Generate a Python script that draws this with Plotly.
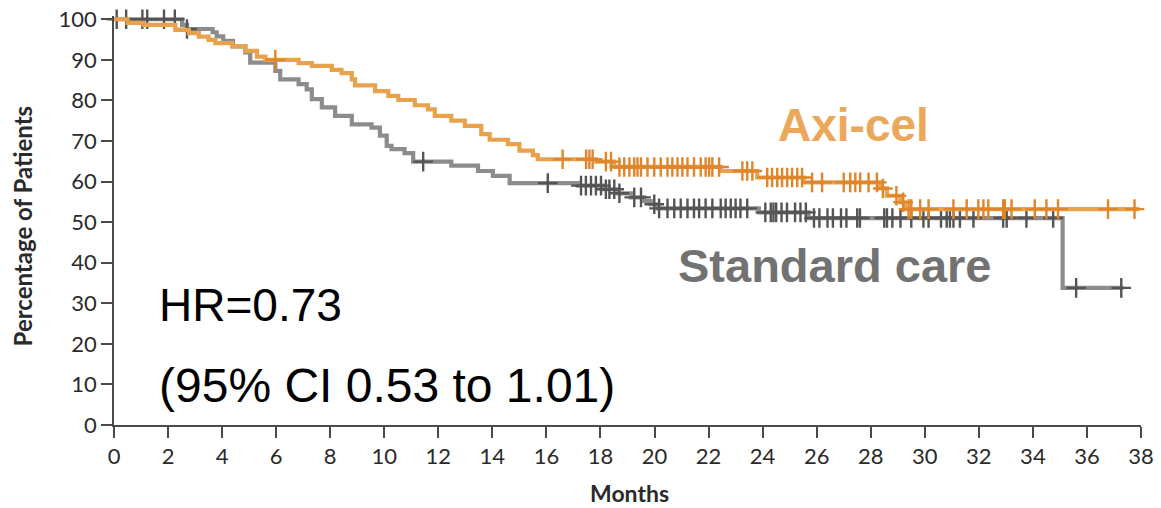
import plotly.graph_objects as go
import bisect

# ---------------- data ----------------
months_ticks = list(range(0, 40, 2))
pct_ticks = list(range(0, 110, 10))

# Axi-cel: Kaplan-Meier step times (months) and survival (%)
axi_t = [0, 0.5, 1.1, 2.27, 2.77, 3.14, 3.5, 3.75, 4.37, 4.86, 5.29, 5.6, 6.83, 7.32,
         8.06, 8.42, 8.8, 8.92, 9.66, 10.15, 10.52, 11.13, 11.62, 11.87, 12.48, 12.98,
         13.59, 13.9, 14.58, 15.0, 15.5, 15.68, 17.83, 18.51, 22.45, 23.8, 25.52,
         28.35, 28.6, 29.09, 29.27, 37.94]
axi_s = [100, 99.1, 98.6, 97.4, 96.6, 95.7, 94.9, 94.1, 93.3, 92.2, 90.8, 90.0, 89.2, 88.5,
         87.5, 86.7, 85.2, 83.7, 82.3, 81.1, 80.1, 78.8, 77.8, 76.2, 75.0, 73.7,
         71.7, 70.3, 69.2, 67.6, 66.5, 65.5, 64.9, 63.6, 62.6, 61.0, 59.8,
         58.3, 56.5, 54.9, 53.2, 53.2]
axi_cens = [5.97, 16.6, 17.47, 17.59, 17.71, 18.2, 18.39, 18.7, 18.88, 19.07, 19.25, 19.37,
            19.5, 19.74, 19.99, 20.23, 20.48, 20.66, 20.85, 21.03, 21.22, 21.46, 21.71,
            21.89, 22.02, 22.14, 22.39, 23.25, 23.43, 23.62, 24.17, 24.35, 24.54, 24.72,
            24.91, 25.09, 25.28, 25.46, 25.83, 26.2, 27.0, 27.24, 27.43, 27.61, 27.92,
            28.23, 28.45, 28.95, 29.2, 29.4, 29.5, 29.83, 30.14, 31.06, 31.55, 31.98,
            32.17, 32.35, 32.9, 32.96, 33.21, 34.07, 34.5, 34.93, 36.78, 37.76]

# Standard care
soc_t = [0, 2.52, 2.7, 3.65, 3.8, 4.04, 4.4, 4.86, 5.04, 5.97, 6.15, 6.83, 7.13, 7.32,
         7.69, 8.18, 8.8, 9.53, 9.84, 10.09, 10.27, 10.75, 11.07, 12.48, 13.47, 14.02,
         14.64, 17.16, 18.14, 18.63, 19.13, 19.62, 19.86, 20.11, 23.86, 25.7, 35.1, 37.35]
soc_s = [100, 98.6, 97.6, 96.8, 95.8, 94.7, 93.3, 91.8, 89.3, 87.3, 85.2, 84.0, 82.7, 80.3,
         78.3, 76.2, 74.1, 73.3, 71.3, 68.8, 68.0, 67.0, 64.9, 63.9, 62.6, 61.4,
         59.6, 59.0, 58.1, 57.1, 56.1, 55.2, 54.4, 53.4, 52.4, 51.0, 33.8, 33.8]
soc_cens = [0.1, 0.45, 1.05, 1.23, 1.85, 2.25, 2.7, 11.44, 16.05, 17.28, 17.46, 17.65,
            17.83, 18.02, 18.2, 18.33, 18.51, 18.7, 19.25, 19.5, 19.99, 20.17, 20.48,
            20.73, 20.97, 21.22, 21.46, 21.65, 21.89, 22.14, 22.45, 22.63, 22.82, 23.0,
            23.18, 23.43, 24.1, 24.3, 24.4, 24.5, 24.7, 24.9, 25.2, 25.4, 25.6, 25.9,
            26.1, 26.4, 26.6, 26.9, 27.1, 27.5, 27.6, 28.5, 28.6, 28.8, 29.1, 29.5,
            29.95, 30.14, 30.6, 30.81, 30.93, 31.06, 31.3, 31.8, 32.9, 33.03, 33.76,
            34.75, 35.6, 37.27]

labels = {"axi": "Axi-cel", "soc": "Standard care"}
x_title = "Months"
y_title = "Percentage of Patients"
hr_text = "HR=0.73"
ci_text = "(95% CI 0.53 to 1.01)"

# ---------------- styling ----------------
ORANGE_LINE = "#E9A24C"
ORANGE_MARK = "#E0852A"
ORANGE_TEXT = "#EBA85A"
GREY_LINE = "#8C8C8C"
GREY_MARK = "#545454"
GREY_TEXT = "#727272"
AXIS = "#4a4a4a"
LABEL = "#2a2a2a"
TICK_FONT = "Lato, sans-serif"
ANN_FONT = "Liberation Sans, Arial, sans-serif"


def step_value(ts, ss, t):
    i = bisect.bisect_right(ts, t) - 1
    return ss[max(i, 0)]


fig = go.Figure()

for ts, ss, cens, lc, mc in [(soc_t, soc_s, soc_cens, GREY_LINE, GREY_MARK),
                             (axi_t, axi_s, axi_cens, ORANGE_LINE, ORANGE_MARK)]:
    fig.add_trace(go.Scatter(x=ts, y=ss, mode="lines", line=dict(color=lc, width=4.2, shape="hv"),
                             showlegend=False, hoverinfo="skip"))
    fig.add_trace(go.Scatter(x=cens, y=[step_value(ts, ss, c) for c in cens], mode="markers",
                             marker=dict(symbol="cross-thin", size=14,
                                         line=dict(color=mc, width=2.4)),
                             showlegend=False, hoverinfo="skip", cliponaxis=False))

annotations = [
    dict(x=24.5, y=74.0, xref="x", yref="y", text=f"<b>{labels['axi']}</b>", showarrow=False,
         xanchor="left", yanchor="middle", font=dict(family=ANN_FONT, size=46, color=ORANGE_TEXT)),
    dict(x=20.8, y=39.3, xref="x", yref="y", text=f"<b>{labels['soc']}</b>", showarrow=False,
         xanchor="left", yanchor="middle", font=dict(family=ANN_FONT, size=47, color=GREY_TEXT)),
    dict(x=1.59, y=29.6, xref="x", yref="y", text=hr_text, showarrow=False,
         xanchor="left", yanchor="middle", font=dict(family=ANN_FONT, size=46, color="#000000")),
    dict(x=1.59, y=9.7, xref="x", yref="y", text=ci_text, showarrow=False,
         xanchor="left", yanchor="middle", font=dict(family=ANN_FONT, size=48, color="#000000")),
    dict(x=-0.0896, y=0.488, xref="paper", yref="paper", text=f"<b>{y_title}</b>", showarrow=False,
         textangle=-90, xanchor="center", yanchor="middle",
         font=dict(family=TICK_FONT, size=24, color=LABEL)),
    dict(x=0.5024, y=-0.166, xref="paper", yref="paper", text=f"<b>{x_title}</b>", showarrow=False,
         xanchor="center", yanchor="middle",
         font=dict(family=TICK_FONT, size=23, color=LABEL)),
]

fig.update_layout(
    width=1161, height=508,
    margin=dict(l=114, r=20, t=16, b=83, autoexpand=False),
    paper_bgcolor="white", plot_bgcolor="white",
    annotations=annotations,
    xaxis=dict(range=[0, 38], tickvals=months_ticks, ticks="outside", ticklen=11, tickwidth=1.5,
               tickcolor=AXIS, showline=True, linecolor=AXIS, linewidth=1.5, showgrid=False,
               zeroline=False, ticklabeloverflow="allow",
               tickfont=dict(family=TICK_FONT, size=22, color=LABEL)),
    yaxis=dict(range=[0, 100.8], tickvals=pct_ticks, ticks="outside", ticklen=11, tickwidth=1.5,
               tickcolor=AXIS, showline=True, linecolor=AXIS, linewidth=1.5, showgrid=False,
               zeroline=False, ticklabeloverflow="allow",
               tickfont=dict(family=TICK_FONT, size=22, color=LABEL)),
)

# remove the browser's default 8px body margin so the figure fills the window exactly
fig.write_html("out.html", config={"displayModeBar": False},
               post_script="document.body.style.margin='0px';")
